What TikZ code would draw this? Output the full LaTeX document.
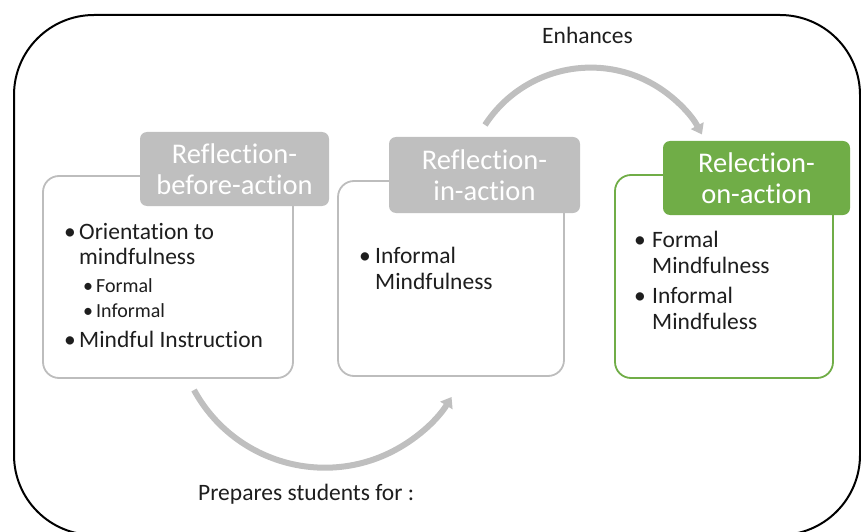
\documentclass[tikz,border=0pt]{standalone}
\usepackage{fontspec}
\setmainfont{Carlito}[Ligatures={NoCommon}]
\usetikzlibrary{arrows.meta}
\definecolor{hdrgray}{HTML}{BFBFBF}
\definecolor{boxgray}{HTML}{BDBDBD}
\definecolor{leafgreen}{HTML}{70AD47}
\definecolor{ink}{HTML}{1E1E1E}

\begin{document}
\begin{tikzpicture}[x=1pt,y=1pt,
  panel/.style={draw=boxgray, line width=1.8pt, fill=white, rounded corners=16pt, rectangle, inner sep=0},
  header/.style={fill=hdrgray, rounded corners=7pt, text=white, align=center, inner sep=0,
                 font=\fontsize{28.5}{31}\selectfont},
  line/.style={anchor=base west, inner sep=0, text=ink, font=\fontsize{23.5}{25}\selectfont},
  subline/.style={line, font=\fontsize{20}{22}\selectfont},
  flow/.style={draw=hdrgray, line width=6pt, -{Triangle[length=10pt,width=14pt]}},
]
\useasboundingbox (0,0) rectangle (861,531);
\clip (0,0) rectangle (861,531);

% outer frame
\draw[line width=2pt, rounded corners=80pt] (14,-4) rectangle (860,516);

% curved flow arrows
\coordinate (enhS) at (485,406);
\draw[flow] (enhS) arc[start angle=147, end angle=28, radius=126];
\coordinate (prepS) at (194,141);
\draw[flow] (prepS) arc[start angle=208.6, end angle=328.3, radius=149];

% panels
\node[panel, minimum width=250pt, minimum height=202pt] (p1) at (168,254) {};
\node[panel, minimum width=226pt, minimum height=195pt] (p2) at (451,252.5) {};
\node[panel, draw=leafgreen, minimum width=218pt, minimum height=203pt] (p3) at (724,254.5) {};

% headers
\node[header, minimum width=189pt, minimum height=74pt] (h1) at (234.5,362) {Reflection-\\before-action};
\node[header, minimum width=191pt, minimum height=76pt] (h2) at (484.5,356) {Reflection-\\in-action};
\node[header, fill=leafgreen, minimum width=187pt, minimum height=74pt] (h3) at (756.5,353) {Relection-\\on-action};

% panel 1 contents
\node[line] (b1a) at (64,292) {•};
\node[line] (t1a) at (79,292) {Orientation to};
\node[line] (t1b) at (79,267) {mindfulness};
\node[subline] (b1c) at (83,239) {•};
\node[subline] (t1c) at (96,239) {Formal};
\node[subline] (b1d) at (83,214) {•};
\node[subline] (t1d) at (96,214) {Informal};
\node[line] (b1e) at (64,184) {•};
\node[line] (t1e) at (79,184) {Mindful Instruction};

% panel 2 contents
\node[line] (b2a) at (359,268) {•};
\node[line] (t2a) at (375,268) {Informal};
\node[line] (t2b) at (375,242) {Mindfulness};

% panel 3 contents
\node[line] (b3a) at (634,284) {•};
\node[line] (t3a) at (652,284) {Formal};
\node[line] (t3b) at (652,258) {Mindfulness};
\node[line] (b3c) at (634,228) {•};
\node[line] (t3c) at (652,228) {Informal};
\node[line] (t3d) at (652,202) {Mindfuless};

% arrow captions
\node[line] (enh) at (542,487) {Enhances};
\node[line] (prep) at (198,31) {Prepares students for :};
\end{tikzpicture}
\end{document}
